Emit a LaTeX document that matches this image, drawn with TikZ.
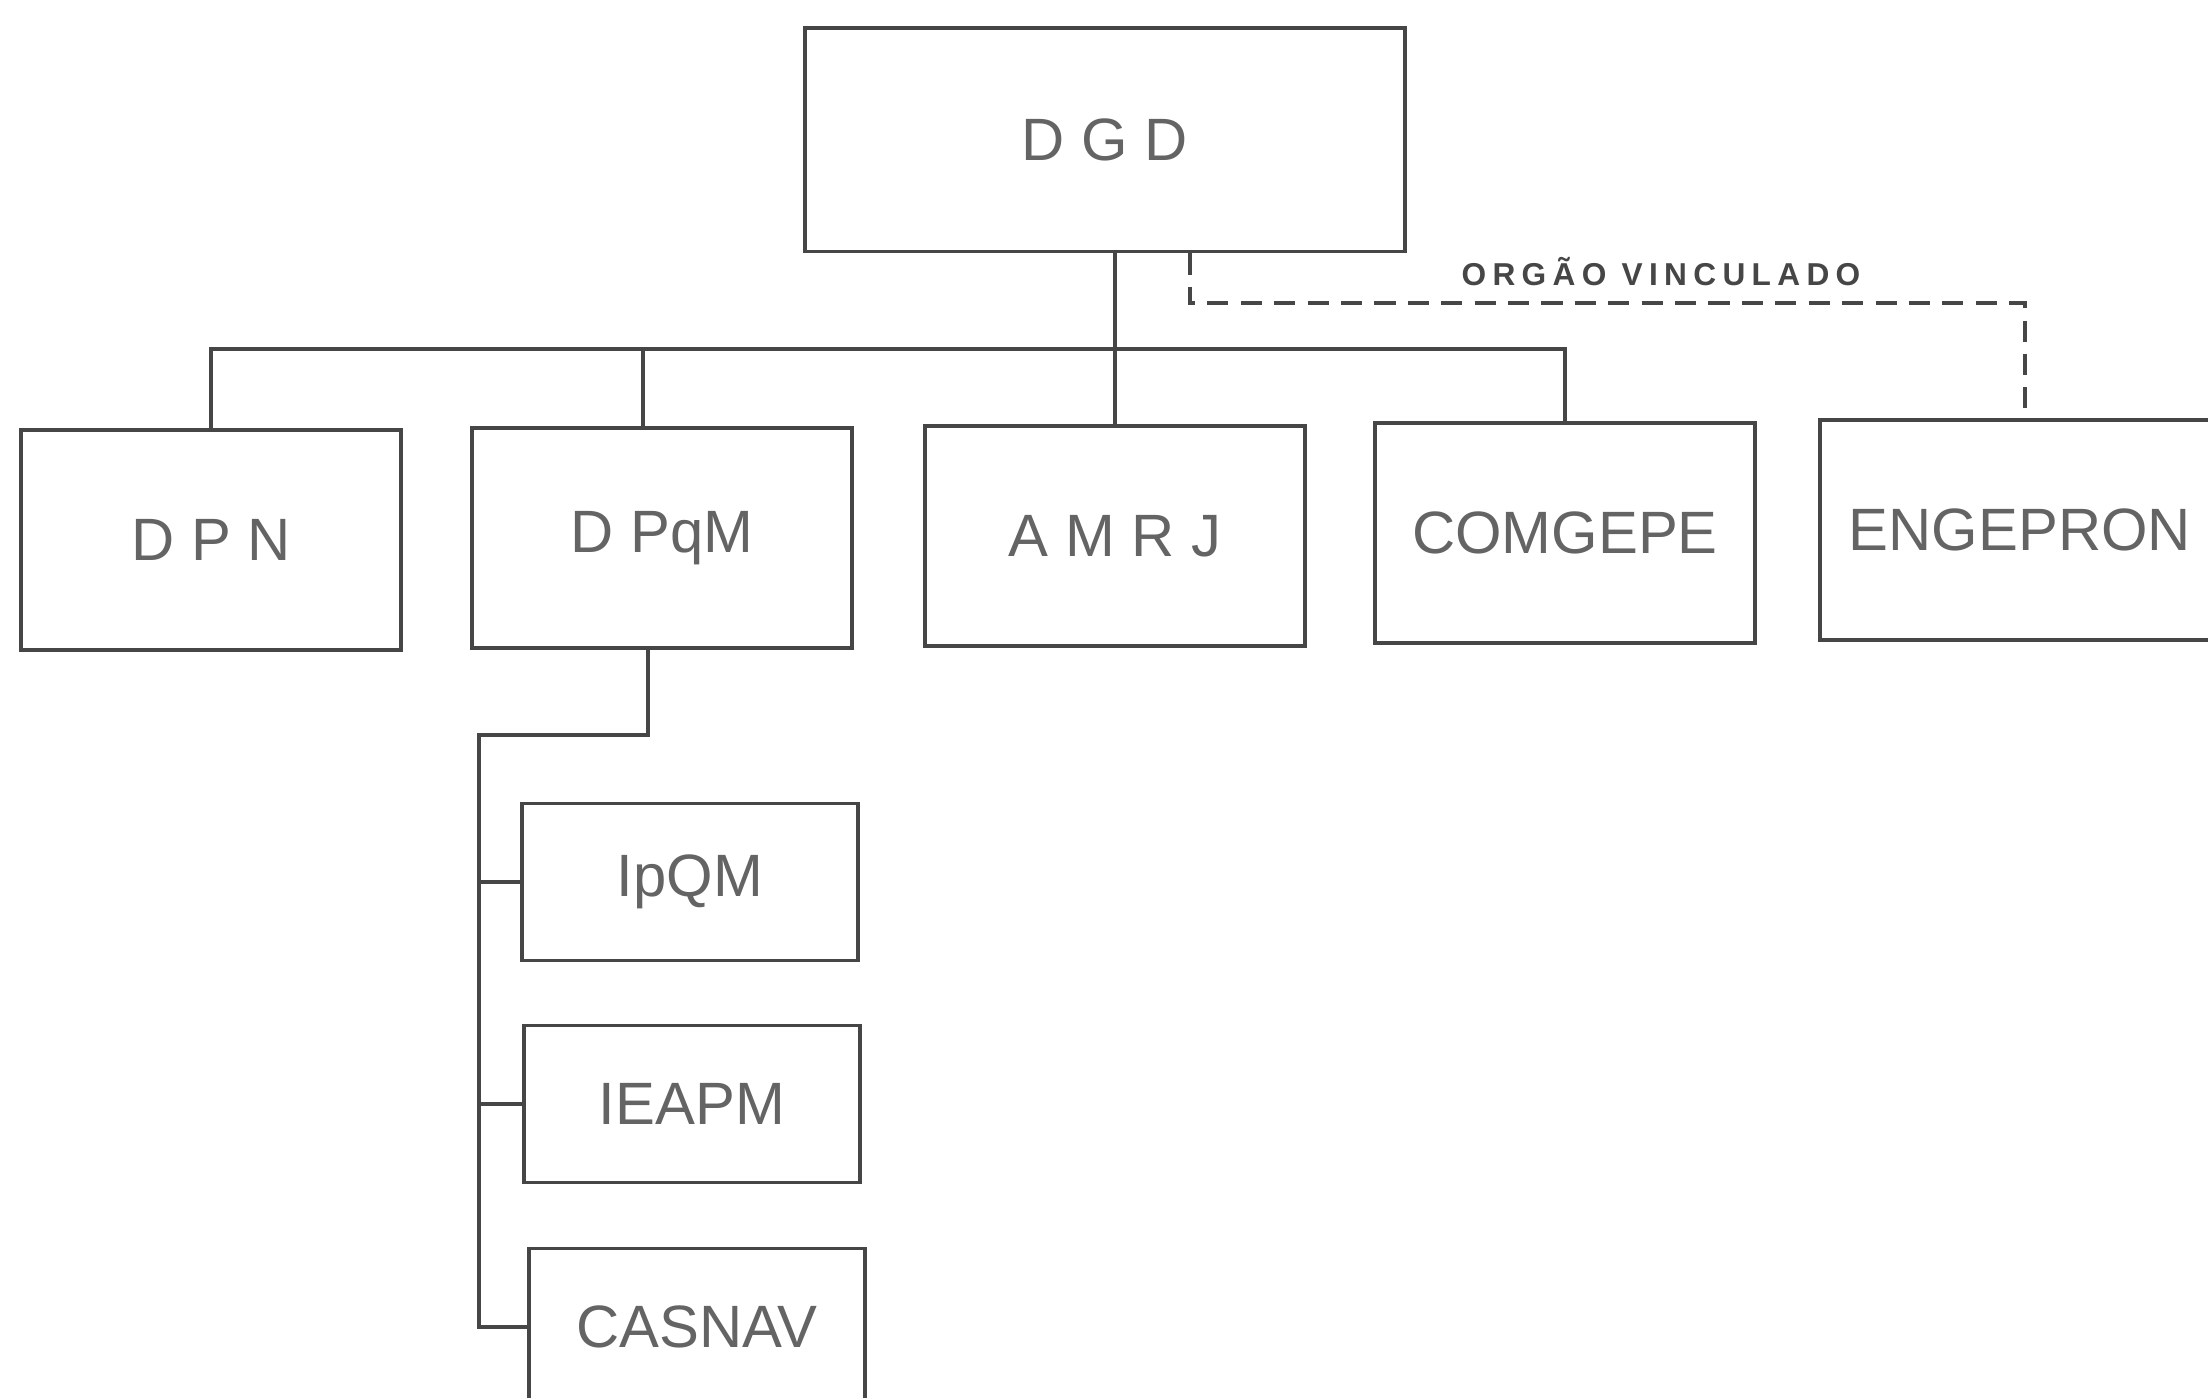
\documentclass[tikz,border=0pt]{standalone}
\usepackage{fontspec}
\setmainfont{Liberation Sans}
\newfontfamily\tagfont[LetterSpace=20]{Liberation Sans}
\definecolor{inkgray}{RGB}{70,70,70}
\definecolor{textgray}{RGB}{100,100,100}

\begin{document}
\begin{tikzpicture}[x=0.01cm, y=-0.01cm,
    orgbox/.style={draw=inkgray, line width=1.1pt, minimum width=3.8cm, minimum height=2.2cm,
        text=textgray, font=\fontsize{17}{20}\selectfont},
    subbox/.style={orgbox, minimum width=3.36cm, minimum height=1.57cm},
    link/.style={draw=inkgray, line width=1.1pt},
    linkdash/.style={link, dash pattern=on 6pt off 3.5pt}]
    \useasboundingbox (0,0) rectangle (2208,1398);
    \clip (0,0) rectangle (2208,1398);

    % Top
    \node[orgbox, minimum width=6cm, minimum height=2.23cm] (dgd) at (1105,140) {D G D};

    % First level
    \node[orgbox] (dpn) at (211,540) {D P N};
    \node[orgbox] (dpqm) at (662,538) {D PqM};
    \node[orgbox] (amrj) at (1115,536) {A M R J};
    \node[orgbox] (comgepe) at (1565,533) {COMGEPE};
    \node[orgbox, minimum width=4cm] (engepron) at (2020,530) {ENGEPRON};

    % Bus
    \coordinate (bus) at (1115,349);
    \draw[link] (amrj.north |- dgd.south) -- (amrj.north);
    \draw[link] (dpn.north) |- (bus) -| (comgepe.north);
    \draw[link] ([xshift=-0.19cm]dpqm.north) -- ([xshift=-0.19cm]dpqm.north |- bus);

    % Linked body
    \coordinate (linkcorner) at (2025,303);
    \draw[linkdash] ([xshift=0.85cm]dgd.south) |- (linkcorner) -- (linkcorner |- engepron.north);
    \node[text=inkgray, font=\tagfont\bfseries\fontsize{9}{10}\selectfont] (tag) at (1661,272) {ORGÃO VINCULADO};

    % Under DPqM
    \node[subbox] (ipqm) at (690,882) {IpQM};
    \node[subbox] (ieapm) at (692,1104) {IEAPM};
    \node[subbox] (casnav) at (697,1327) {CASNAV};

    \coordinate (spine) at (479,735);
    \draw[link] ([xshift=-0.14cm]dpqm.south) |- (spine) |- (casnav.west);
    \foreach \sub in {ipqm, ieapm} {
        \draw[link] (\sub.west) -- (\sub.west -| spine);
    }
\end{tikzpicture}
\end{document}
